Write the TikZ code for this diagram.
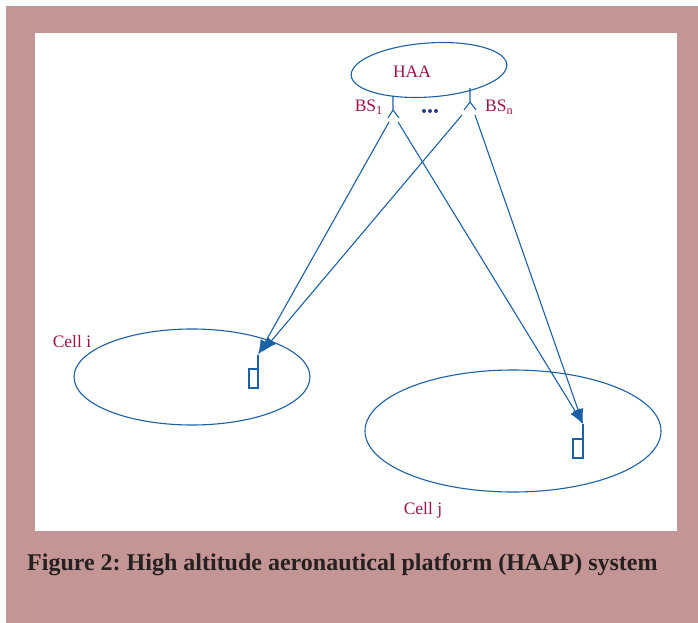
\documentclass[tikz,border=0pt]{standalone}
\usepackage{fontspec}
\setmainfont{Liberation Serif}
\usetikzlibrary{arrows.meta}
\definecolor{frame-pink}{RGB}{196,149,149}
\definecolor{link-blue}{RGB}{28,96,166}
\definecolor{label-red}{RGB}{158,22,72}
\definecolor{dot-blue}{RGB}{40,62,140}
\definecolor{caption-gray}{RGB}{38,32,32}
\frenchspacing

\begin{document}
\begin{tikzpicture}[x=1pt,y=-1pt,
		lbl/.style={text=label-red, font=\fontsize{17.5}{20}\selectfont, inner sep=0pt},
		link/.style={link-blue, line width=1.1pt, -{Latex[length=15pt,width=11pt]}},
		ant/.style={link-blue, line width=1.1pt}]
			\useasboundingbox (0,0) rectangle (698,623);
			\fill[frame-pink] (6,6) rectangle (698,623);
			\fill[white] (35,33) rectangle (677,531);

			% platform and its two antennas
			\draw[ant, rotate around={4:(429,70)}] (429,70) ellipse [x radius=78, y radius=27];
			\node[lbl] (haa) at (412,72) {HAA};

			\coordinate (bs1top) at (393,96);
			\coordinate (bs1) at (393,110);
			\draw[ant] (bs1top) -- (bs1) (388,118) -- (bs1) -- (399,118);
			\coordinate (bs1l) at (389,122);
			\coordinate (bs1r) at (398,122);

			\coordinate (bsntop) at (470,88);
			\coordinate (bsn) at (470,102);
			\draw[ant] (bsntop) -- (bsn) (464,110) -- (bsn) -- (476,110);
			\coordinate (bsnl) at (462,115);
			\coordinate (bsnr) at (475,115);

			\node[lbl, anchor=east] (bs1lbl) at (383,107) {BS\textsubscript{1}};
			\node[lbl, anchor=west] (bsnlbl) at (485,107) {BS\textsubscript{n}};
			\foreach \x in {424,430,436}
				\fill[dot-blue] (\x,111) circle (2);

			% cells
			\draw[ant] (192,377) ellipse [x radius=118, y radius=48];
			\draw[ant] (513,431) ellipse [x radius=148, y radius=61];
			\node[lbl] (celli) at (72,342) {Cell i};
			\node[lbl] (cellj) at (423,510) {Cell j};

			% terminals
			\coordinate (mi) at (258,355);
			\coordinate (mitip) at (262,352);
			\draw[ant] (mi) -- (258,369);
			\draw[ant] (249,369) rectangle (258,388);

			\coordinate (mj) at (583,424);
			\draw[ant] (mj) -- (583,439);
			\draw[ant] (573,439) rectangle (583,458);

			% links
			\draw[link] (bs1l) -- (mi);
			\draw[link] (bs1r) -- (mj);
			\draw[link] (bsnl) -- (mitip);
			\draw[link] (bsnr) -- (mj);

			\node[anchor=base west, inner sep=0pt, text=caption-gray, font=\fontsize{24}{28}\selectfont\bfseries] (caption) at (27,570)
				{Figure 2: High altitude aeronautical platform (HAAP) system};
		\end{tikzpicture}
\end{document}
